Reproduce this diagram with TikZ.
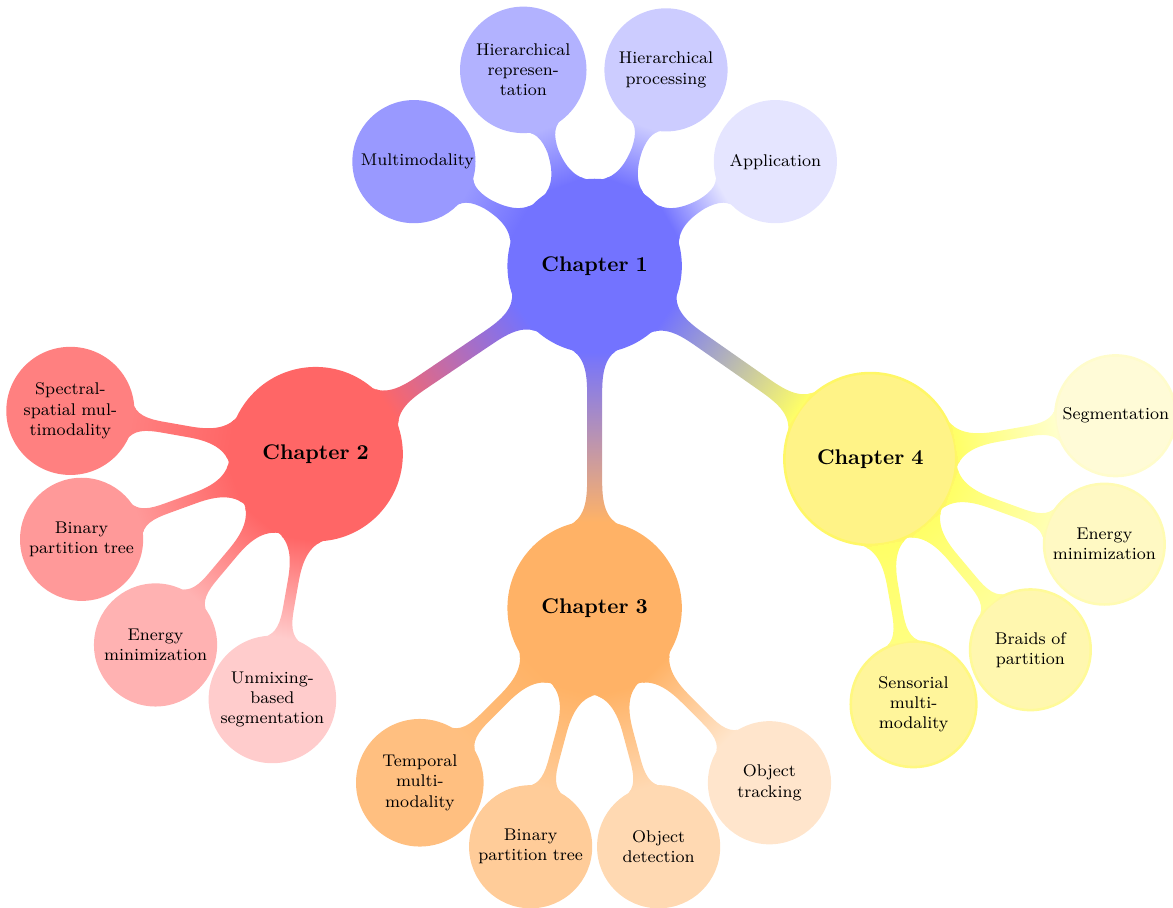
\documentclass[tikz,border=0pt]{standalone}
\usetikzlibrary{mindmap}
\definecolor{ylwsixty}{RGB}{255,243,135}
\definecolor{ylwfifty}{RGB}{255,245,155}
\definecolor{ylwforty}{RGB}{255,247,175}
\definecolor{ylwthirty}{RGB}{255,249,195}
\definecolor{ylwtwenty}{RGB}{255,251,215}

\begin{document}
\begin{tikzpicture}[mindmap, concept color=blue!55, text=black,
        chapter/.style={concept, minimum size=2.85cm, text width=2.5cm, font=\bfseries},
        topic/.style={concept, minimum size=2cm, text width=1.76cm, font=\footnotesize}]
    \useasboundingbox (-9.86,-10.63) rectangle (9.59,4.41);
    \node[chapter] (ch1) {Chapter 1}
        child[grow=150, level distance=3.46cm, concept color=blue!40] {node[topic] (multimodality) {Multimodality}}
        child[grow=110, level distance=3.46cm, concept color=blue!30] {node[topic] (hierrep) {Hierarchical representation}}
        child[grow=70, level distance=3.46cm, concept color=blue!20] {node[topic] (hierproc) {Hierarchical processing}}
        child[grow=30, level distance=3.46cm, concept color=blue!10] {node[topic] (application) {Application}}
        child[grow=214.6, level distance=5.58cm, concept color=red!60] {node[chapter] (ch2) {Chapter 2}
            child[grow=170, level distance=4.13cm, concept color=red!50] {node[topic] (spectral) {Spectral-\\spatial mul-\\timodality}}
            child[grow=200, level distance=4.13cm, concept color=red!40] {node[topic] (bpt2) {Binary partition tree}}
            child[grow=230, level distance=4.13cm, concept color=red!30] {node[topic] (energy2) {Energy minimization}}
            child[grow=260, level distance=4.13cm, concept color=red!20] {node[topic] (unmixing) {Unmixing-based segmentation}}
        }
        child[grow=270, level distance=5.67cm, concept color=orange!60] {node[chapter] (ch3) {Chapter 3}
            child[grow=225, level distance=4.1cm, concept color=orange!50] {node[topic] (temporal) {Temporal multimodality}}
            child[grow=255, level distance=4.1cm, concept color=orange!40] {node[topic] (bpt3) {Binary partition tree}}
            child[grow=285, level distance=4.1cm, concept color=orange!30] {node[topic] (detection) {Object detection}}
            child[grow=315, level distance=4.1cm, concept color=orange!20] {node[topic] (tracking) {Object tracking}}
        }
        child[grow=325.4, level distance=5.58cm, concept color=yellow!60] {node[chapter, fill=ylwsixty] (ch4) {Chapter 4}
            child[grow=280, level distance=4.13cm, concept color=yellow!50] {node[topic, fill=ylwfifty] (sensorial) {Sensorial multimodality}}
            child[grow=310, level distance=4.13cm, concept color=yellow!40] {node[topic, fill=ylwforty] (braids) {Braids of partition}}
            child[grow=340, level distance=4.13cm, concept color=yellow!30] {node[topic, fill=ylwthirty] (energy4) {Energy minimization}}
            child[grow=10, level distance=4.13cm, concept color=yellow!20] {node[topic, fill=ylwtwenty] (segmentation) {Segmentation}}
        };
\end{tikzpicture}
\end{document}
